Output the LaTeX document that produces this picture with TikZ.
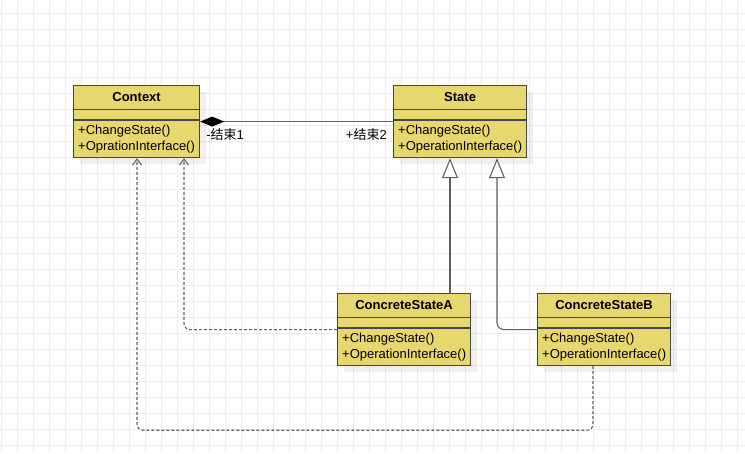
\documentclass[tikz,border=0pt]{standalone}
\usepackage{fontspec}
\setmainfont{Liberation Sans}
\newfontfamily\cjk{Noto Sans CJK SC}
\usetikzlibrary{arrows.meta,shadows}
\definecolor{umlfill}{HTML}{E6D86E}
\definecolor{umlline}{HTML}{454545}
\definecolor{conn}{HTML}{606060}
\definecolor{gridc}{HTML}{EDEDED}
\newcommand\umlbox[6]{%
  \node[classbox, minimum width=#4] (#1) at (#2,#3) {};
  \draw[sepline] ([yshift=-24.5pt]#1.north west) -- ([yshift=-24.5pt]#1.north east);
  \draw[sepline] ([yshift=-35pt]#1.north west) -- ([yshift=-35pt]#1.north east);
  \node[txt, font=\fontsize{13}{15}\selectfont\bfseries] (#1T) at ([yshift=-12.5pt]#1.north) {#5};
  \node[txt, anchor=base west] (#1M1) at ([xshift=5pt,yshift=-49.5pt]#1.north west) {+ChangeState()};
  \node[txt, anchor=base west] (#1M2) at ([xshift=5pt,yshift=-65.5pt]#1.north west) {#6};
}
\begin{document}
\begin{tikzpicture}[x=1pt,y=-1pt,
  font=\fontsize{13}{15}\selectfont,
  classbox/.style={draw=umlline, fill=umlfill, line width=1.2pt, minimum height=72pt,
    anchor=north west, inner sep=0pt,
    drop shadow={shadow xshift=6pt, shadow yshift=-6pt, fill=black, opacity=0.06}},
  sepline/.style={draw=umlline, line width=1.2pt},
  txt/.style={inner sep=0pt, text=black},
  conn/.style={draw=conn, line width=1.1pt},
  dashconn/.style={conn, dash pattern=on 3pt off 2pt, rounded corners=6pt,
    -{Straight Barb[length=6pt,width=9pt]}},
  inherit/.style={conn, -{Triangle[length=20pt,width=16pt,fill=white]}}
]
\useasboundingbox (0,0) rectangle (745,453);
\fill[white] (0,0) rectangle (745,453);
\foreach \x in {1,17,...,745} \draw[gridc, line width=1pt] (\x,0) -- (\x,453);
\foreach \y in {13.3,29.3,...,453} \draw[gridc, line width=1pt] (0,\y) -- (745,\y);

\umlbox{ctx}{73}{85}{126pt}{Context}{+OprationInterface()}
\umlbox{state}{393}{85}{133pt}{State}{+OperationInterface()}
\umlbox{csA}{337}{293}{133pt}{ConcreteStateA}{+OperationInterface()}
\umlbox{csB}{537}{293}{133pt}{ConcreteStateB}{+OperationInterface()}

% composition
\draw[conn, -{Diamond[length=24pt,width=10pt,fill=black,color=black]}] (state.west) -- (ctx.east);
\node[txt, anchor=west] (end1) at ([xshift=6pt,yshift=-13pt]ctx.east) {-{\cjk 结束}1};
\node[txt, anchor=east] (end2) at ([xshift=-6pt,yshift=-13pt]state.west) {+{\cjk 结束}2};

% inheritance
\draw[inherit] ([xshift=113pt]csA.north west) -- ([xshift=57pt]state.south west);
\draw[inherit, rounded corners=7pt] (csB.west) -| ([xshift=104pt]state.south west);

% dependencies
\draw[dashconn] (csA.west) -| ([xshift=111pt]ctx.south west);
\coordinate (bdown) at ([xshift=56pt,yshift=-64pt]csB.south west);
\draw[dashconn] ([xshift=56pt]csB.south west) -- (bdown) -| ([xshift=64pt]ctx.south west);
\end{tikzpicture}
\end{document}
